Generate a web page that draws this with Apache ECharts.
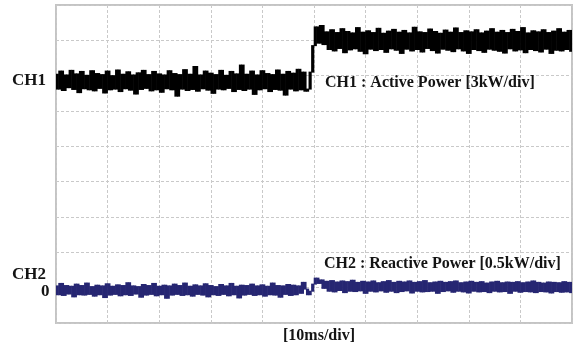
<!DOCTYPE html>
<html>
<head>
<meta charset="utf-8">
<script src="https://cdn.jsdelivr.net/npm/echarts@6/dist/echarts.min.js"></script>
<style>
  html, body { margin: 0; padding: 0; background: #fff; }
  #chart { width: 576px; height: 349px; }
</style>
</head>
<body>
<div id="chart"></div>
<script>
// Scope capture: 10 ms/div horizontally, 9 vertical divisions.
// Trace values are in screen divisions above the bottom graticule line.
const sampleStepMs = 0.5;
const xTicksMs = [0, 10, 20, 30, 40, 50, 60, 70, 80, 90, 100];
const yDivTicks = [0, 1, 2, 3, 4, 5, 6, 7, 8, 9];

// CH1 : Active Power [3kW/div]
const ch1Div = [
  7.04,6.62,7.13,6.58,7.02,6.66,7.15,6.61,7.05,6.52,7.12,6.63,7.01,6.60,7.14,6.57,7.06,6.64,7.03,6.51,
  7.13,6.60,7.00,6.62,7.16,6.55,7.04,6.63,7.11,6.59,7.02,6.48,7.08,6.61,7.15,6.64,7.03,6.57,7.12,6.60,
  7.05,6.53,7.02,6.63,7.14,6.60,7.06,6.42,7.03,6.62,7.17,6.58,7.04,6.61,7.26,6.56,7.02,6.63,7.13,6.59,
  7.07,6.50,7.03,6.62,7.15,6.60,7.01,6.64,7.12,6.55,7.05,6.61,7.30,6.58,7.04,6.62,7.13,6.47,7.02,6.60,
  7.14,6.63,7.06,6.55,7.03,6.61,7.16,6.59,7.04,6.45,7.12,6.62,7.07,6.57,7.18,6.60,7.10,6.56,
  6.62,7.10,7.85,8.38,7.92,8.42,7.88,
  8.24,7.74,8.30,7.70,8.22,7.77,8.33,7.65,8.25,7.73,8.21,7.76,8.36,7.69,8.23,7.62,8.27,7.75,8.22,7.71,
  8.34,7.74,8.20,7.66,8.26,7.76,8.31,7.72,8.23,7.63,8.28,7.75,8.21,7.70,8.37,7.74,8.24,7.67,8.22,7.77,
  8.32,7.71,8.25,7.64,8.20,7.75,8.29,7.72,8.23,7.68,8.35,7.76,8.22,7.70,8.27,7.63,8.24,7.74,8.30,7.71,
  8.21,7.66,8.26,7.75,8.33,7.72,8.23,7.69,8.28,7.64,8.22,7.76,8.31,7.70,8.25,7.73,8.36,7.65,8.21,7.74,
  8.27,7.71,8.24,7.67,8.30,7.75,8.22,7.63,8.26,7.72,8.33,7.70,8.23,7.74,8.28,7.69
];

// CH2 : Reactive Power [0.5kW/div]
const ch2Div = [
  1.05,0.80,1.12,0.78,1.06,0.82,1.04,0.74,1.10,0.80,1.06,0.79,1.13,0.81,1.03,0.76,1.07,0.80,1.05,0.72,
  1.11,0.79,1.04,0.81,1.08,0.77,1.06,0.80,1.14,0.78,1.05,0.82,1.03,0.73,1.09,0.79,1.06,0.81,1.12,0.77,
  1.04,0.80,1.07,0.70,1.05,0.79,1.10,0.81,1.06,0.78,1.13,0.80,1.04,0.76,1.08,0.81,1.05,0.79,1.11,0.74,
  1.06,0.80,1.03,0.78,1.09,0.81,1.05,0.77,1.12,0.80,1.04,0.71,1.07,0.79,1.06,0.81,1.10,0.78,1.05,0.80,
  1.08,0.76,1.04,0.80,1.13,0.79,1.06,0.73,1.05,0.81,1.09,0.78,1.07,0.80,
  1.05,0.84,1.15,0.96,0.80,0.90,1.10,1.27,1.12,1.22,0.98,
  1.18,0.90,1.20,0.88,1.16,0.92,1.19,0.86,1.17,0.90,1.21,0.89,1.15,0.91,1.18,0.84,1.16,0.90,1.19,0.88,
  1.14,0.91,1.17,0.87,1.20,0.90,1.15,0.86,1.18,0.89,1.16,0.91,1.19,0.85,1.15,0.90,1.17,0.88,1.20,0.89,
  1.14,0.90,1.16,0.84,1.18,0.89,1.15,0.91,1.17,0.87,1.19,0.90,1.14,0.88,1.16,0.85,1.18,0.90,1.15,0.88,
  1.17,0.89,1.13,0.86,1.16,0.90,1.18,0.88,1.14,0.89,1.16,0.84,1.15,0.90,1.17,0.87,1.14,0.89,1.16,0.88,
  1.19,0.86,1.15,0.89,1.13,0.88,1.16,0.85,1.15,0.89,1.14,0.87,1.17,0.88,1.15,0.86
];

const ch1Name = 'CH1 : Active Power [3kW/div]';
const ch2Name = 'CH2 : Reactive Power [0.5kW/div]';
const timebaseLabel = '[10ms/div]';

// Peak-detect style display: each interval between two consecutive samples
// is drawn as a filled column covering the span the trace swept through.
const toSpans = arr => arr.slice(0, -1).map((v, i) => {
  const w = arr[i + 1];
  return [i * sampleStepMs, (i + 1) * sampleStepMs, Math.min(v, w), Math.max(v, w)];
});

function renderSpan(params, api) {
  const p0 = api.coord([api.value(0), api.value(3)]);
  const p1 = api.coord([api.value(1), api.value(2)]);
  const shape = echarts.graphic.clipRectByRect(
    { x: p0[0] - 0.3, y: p0[1] - 0.5, width: p1[0] - p0[0] + 0.6, height: p1[1] - p0[1] + 1 },
    { x: params.coordSys.x, y: params.coordSys.y, width: params.coordSys.width, height: params.coordSys.height }
  );
  return shape && { type: 'rect', shape: shape, style: { fill: api.visual('color') } };
}

const FONT = '"Liberation Serif", "Times New Roman", serif';
const TEXT_COLOR = '#141414';

const chart = echarts.init(document.getElementById('chart'), null, { renderer: 'canvas' });

const gridLine = { show: true, lineStyle: { color: '#c9c9c9', type: [3, 2], width: 1 } };

chart.setOption({
  animation: false,
  backgroundColor: '#ffffff',
  grid: {
    left: 56, top: 5, right: 4, bottom: 26,
    show: true, borderColor: '#c4c4c4', borderWidth: 2, backgroundColor: 'transparent'
  },
  xAxis: {
    type: 'value',
    min: xTicksMs[0], max: xTicksMs[xTicksMs.length - 1], interval: 10,
    axisLine: { show: false }, axisTick: { show: false }, axisLabel: { show: false },
    splitLine: gridLine
  },
  yAxis: {
    type: 'value',
    min: yDivTicks[0], max: yDivTicks[yDivTicks.length - 1], interval: 1,
    axisLine: { show: false }, axisTick: { show: false }, axisLabel: { show: false },
    splitLine: gridLine
  },
  series: [
    {
      name: ch1Name, type: 'custom', data: toSpans(ch1Div),
      renderItem: renderSpan, encode: { x: [0, 1], y: [2, 3] },
      itemStyle: { color: '#000000' }, z: 3
    },
    {
      name: ch2Name, type: 'custom', data: toSpans(ch2Div),
      renderItem: renderSpan, encode: { x: [0, 1], y: [2, 3] },
      itemStyle: { color: '#262672' }, z: 3
    }
  ],
  graphic: [
    { type: 'text', left: 12, top: 72, z: 10,
      style: { text: 'CH1', font: 'bold 17px ' + FONT, fill: TEXT_COLOR } },
    { type: 'text', left: 12, top: 266, z: 10,
      style: { text: 'CH2', font: 'bold 17px ' + FONT, fill: TEXT_COLOR } },
    { type: 'text', left: 41, top: 283, z: 10,
      style: { text: '0', font: 'bold 17px ' + FONT, fill: TEXT_COLOR } },
    { type: 'text', left: 325, top: 75, z: 10,
      style: { text: ch1Name, font: 'bold 16px ' + FONT, fill: TEXT_COLOR } },
    { type: 'text', left: 324, top: 256, z: 10,
      style: { text: ch2Name, font: 'bold 16px ' + FONT, fill: TEXT_COLOR } },
    { type: 'text', left: 283, top: 328, z: 10,
      style: { text: timebaseLabel, font: 'bold 16px ' + FONT, fill: TEXT_COLOR } }
  ]
});
</script>
</body>
</html>
